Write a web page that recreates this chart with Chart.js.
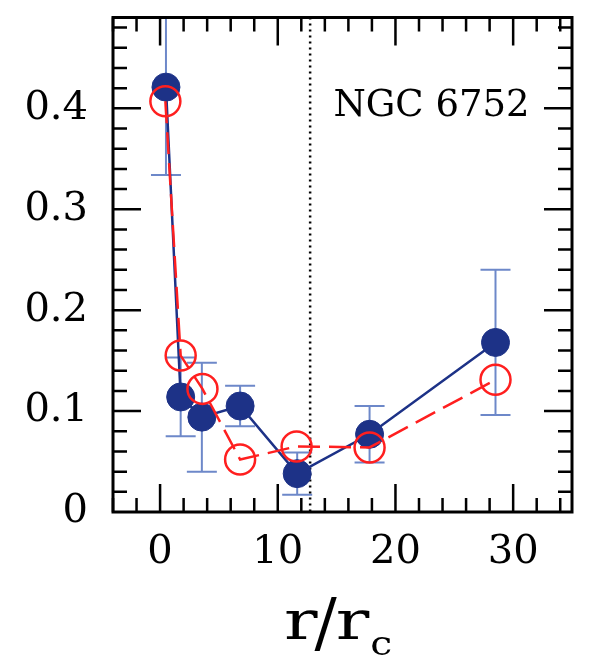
<!DOCTYPE html>
<html>
<head>
<meta charset="utf-8">
<script src="https://cdn.jsdelivr.net/npm/chart.js@4.4.0/dist/chart.umd.min.js"></script>
<style>
  body { margin: 0; background: #fff; }
  canvas { display: block; }
</style>
</head>
<body>
<canvas id="chart" width="594" height="656"></canvas>
<script>
// data
const blueX = [0.5, 1.75, 3.55, 6.8, 11.65, 17.8, 28.5];
const blueY = [0.421, 0.114, 0.094, 0.105, 0.038, 0.077, 0.168];
const blueErr = [0.087, 0.039, 0.054, 0.020, 0.021, 0.028, 0.072];
const redX = [0.45, 1.75, 3.6, 6.8, 11.6, 17.8, 28.5];
const redY = [0.407, 0.155, 0.122, 0.052, 0.065, 0.064, 0.131];
const xTicks = [0, 10, 20, 30];
const yTicks = [0, 0.1, 0.2, 0.3, 0.4];
const rCore = 12.75;
const label = 'NGC 6752';

const serif = '"DejaVu Serif", serif';
const blue = '#1d3287';
const red = '#ff1f1f';

function toPoints(xs, ys) {
    return xs.map((x, i) => ({ x: x, y: ys[i] }));
}

// draws text stretched horizontally, returns advance
function wideText(ctx, txt, x, y, size, sx) {
    ctx.font = size + 'px ' + serif;
    const w = ctx.measureText(txt).width * sx;
    ctx.save();
    ctx.translate(x, y);
    ctx.scale(sx, 1);
    ctx.fillText(txt, 0, 0);
    ctx.restore();
    return w;
}

// box, inside ticks, dotted line, label, axis title
const framePlugin = {
    id: 'frame',
    beforeDatasetsDraw(chart) {
        const ctx = chart.ctx;
        const a = chart.chartArea;
        const xs = chart.scales.x;
        const ys = chart.scales.y;

        // error bars
        ctx.save();
        ctx.beginPath();
        ctx.rect(a.left, a.top, a.right - a.left, a.bottom - a.top);
        ctx.clip();
        ctx.strokeStyle = '#6d88c9';
        ctx.lineWidth = 2;
        blueX.forEach((x, i) => {
            const px = xs.getPixelForValue(x);
            const top = ys.getPixelForValue(blueY[i] + blueErr[i]);
            const bot = ys.getPixelForValue(blueY[i] - blueErr[i]);
            ctx.beginPath();
            ctx.moveTo(px, top);
            ctx.lineTo(px, bot);
            ctx.moveTo(px - 15, top);
            ctx.lineTo(px + 15, top);
            ctx.moveTo(px - 15, bot);
            ctx.lineTo(px + 15, bot);
            ctx.stroke();
        });

        // dotted line at r_c
        const dx = xs.getPixelForValue(rCore);
        ctx.strokeStyle = '#000';
        ctx.lineWidth = 2.5;
        ctx.setLineDash([2, 4]);
        ctx.beginPath();
        ctx.moveTo(dx, a.top);
        ctx.lineTo(dx, a.bottom);
        ctx.stroke();
        ctx.restore();
    },
    afterDraw(chart) {
        const ctx = chart.ctx;
        const a = chart.chartArea;
        const xs = chart.scales.x;
        const ys = chart.scales.y;
        ctx.save();
        ctx.strokeStyle = '#000';
        ctx.lineWidth = 2.5;

        // x ticks, top and bottom
        for (let v = -4; v <= 35; v += 2) {
            const px = xs.getPixelForValue(v);
            const len = v % 10 === 0 ? 28 : 14;
            ctx.beginPath();
            ctx.moveTo(px, a.bottom);
            ctx.lineTo(px, a.bottom - len);
            ctx.moveTo(px, a.top);
            ctx.lineTo(px, a.top + len);
            ctx.stroke();
        }
        // y ticks, left and right
        for (let k = 1; k <= 24; k++) {
            const v = k * 0.02;
            const py = ys.getPixelForValue(v);
            const len = k % 5 === 0 ? 28 : 14;
            ctx.beginPath();
            ctx.moveTo(a.left, py);
            ctx.lineTo(a.left + len, py);
            ctx.moveTo(a.right, py);
            ctx.lineTo(a.right - len, py);
            ctx.stroke();
        }
        ctx.lineWidth = 3;
        ctx.strokeRect(a.left, a.top, a.right - a.left, a.bottom - a.top);

        // label
        ctx.fillStyle = '#000';
        ctx.font = '37px ' + serif;
        ctx.textBaseline = 'alphabetic';
        ctx.fillText(label, xs.getPixelForValue(14.73), ys.getPixelForValue(0.392));

        // axis title r/r_c
        let x = 284;
        x += wideText(ctx, 'r', x, 639, 54, 1.3);
        x += wideText(ctx, '/', x - 3, 645, 66, 1.0) - 4;
        x += wideText(ctx, 'r', x, 639, 54, 1.3);
        wideText(ctx, 'c', x + 1, 655, 34, 1.15);
        ctx.restore();
    }
};

new Chart(document.getElementById('chart'), {
    type: 'scatter',
    data: {
        datasets: [
            {
                data: toPoints(redX, redY),
                showLine: true,
                borderColor: red,
                borderWidth: 2.5,
                borderDash: [22, 9],
                pointRadius: 15,
                pointBackgroundColor: 'rgba(0,0,0,0)',
                pointBorderColor: red,
                pointBorderWidth: 2.5,
                order: 0
            },
            {
                data: toPoints(blueX, blueY),
                showLine: true,
                borderColor: blue,
                borderWidth: 2.5,
                pointRadius: 14,
                pointBackgroundColor: blue,
                pointBorderColor: blue,
                pointBorderWidth: 1,
                order: 1
            }
        ]
    },
    options: {
        responsive: false,
        animation: false,
        layout: { padding: { left: 0, right: 22, top: 13, bottom: 0 } },
        plugins: { legend: { display: false }, tooltip: { enabled: false } },
        scales: {
            x: {
                type: 'linear',
                min: -4,
                max: 35,
                afterBuildTicks: s => { s.ticks = xTicks.map(v => ({ value: v })); },
                afterFit: s => { s.height = 144; s.paddingLeft = 0; s.paddingRight = 0; },
                grid: { display: false, drawTicks: false },
                border: { display: false },
                ticks: {
                    color: '#000',
                    font: { family: serif, size: 40 },
                    padding: 17,
                    maxRotation: 0
                }
            },
            y: {
                type: 'linear',
                min: 0,
                max: 0.49,
                afterBuildTicks: s => { s.ticks = yTicks.map(v => ({ value: v })); },
                afterFit: s => { s.width = 113; s.paddingTop = 0; s.paddingBottom = 0; },
                grid: { display: false, drawTicks: false },
                border: { display: false },
                ticks: {
                    color: '#000',
                    font: { family: serif, size: 40 },
                    padding: 25,
                    callback: v => String(Math.round(v * 10) / 10)
                }
            }
        }
    },
    plugins: [framePlugin]
});
</script>
</body>
</html>
